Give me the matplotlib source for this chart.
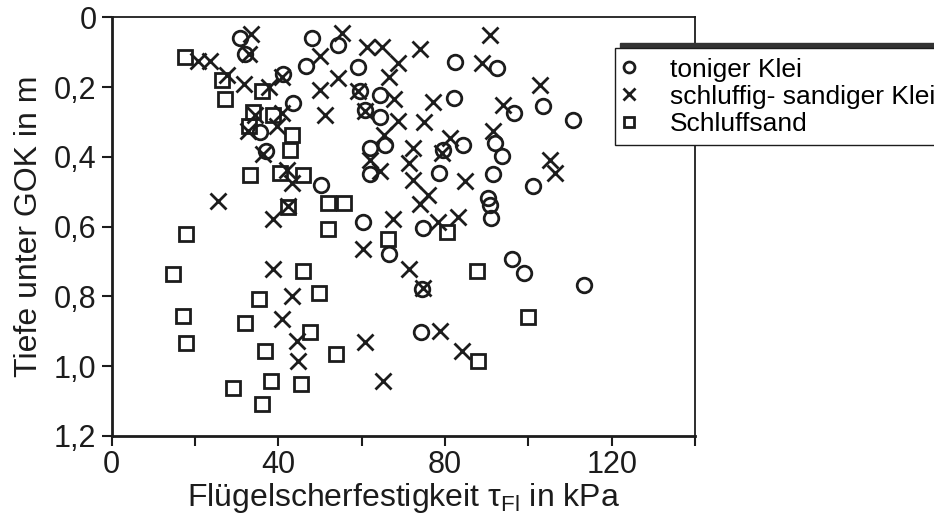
import matplotlib
matplotlib.use("Agg")
import matplotlib.pyplot as plt

plt.rcParams['font.family'] = ['Liberation Sans', 'DejaVu Sans']
plt.rcParams['mathtext.fontset'] = 'custom'
plt.rcParams['mathtext.rm'] = 'Liberation Sans'

# Flügelscherfestigkeit (kPa) / Tiefe (m)
ton_x = [30.9, 32.0, 41.2, 43.5, 35.5, 37.0, 50.2, 48.0, 54.3, 46.6, 59.0, 59.7,
         64.3, 60.9, 64.4, 62.0, 65.6, 82.4, 92.4, 82.2, 96.6, 103.6, 110.8, 79.6,
         84.4, 92.0, 93.6, 62.0, 78.5, 91.6, 101.0, 90.2, 90.8, 91.1, 60.3, 74.8,
         66.6, 96.0, 99.0, 113.4, 74.4, 74.2]
ton_y = [0.058, 0.106, 0.161, 0.244, 0.329, 0.384, 0.479, 0.058, 0.078, 0.140, 0.141, 0.212,
         0.221, 0.265, 0.284, 0.375, 0.367, 0.128, 0.146, 0.231, 0.275, 0.255, 0.293, 0.379,
         0.365, 0.359, 0.398, 0.450, 0.446, 0.450, 0.484, 0.518, 0.537, 0.576, 0.586, 0.605,
         0.679, 0.693, 0.733, 0.768, 0.779, 0.901]

schluff_klei_x = [33.4, 33.0, 20.6, 23.6, 27.6, 31.8, 37.8, 40.8, 34.4, 40.8, 39.6, 32.8,
                  36.2, 42.0, 43.2, 42.2, 38.8, 25.6, 55.2, 50.0, 61.2, 64.8, 74.0, 90.8,
                  54.4, 50.0, 59.2, 68.6, 66.6, 88.8, 51.2, 60.8, 67.8, 68.6, 77.2, 75.0,
                  94.0, 102.8, 65.4, 62.0, 72.4, 71.4, 64.4, 81.2, 79.2, 91.6, 72.4, 84.8,
                  75.8, 74.0, 67.6, 83.0, 78.4, 105.2, 106.4, 60.2, 71.4, 74.6, 78.8, 84.0,
                  60.8, 65.2, 38.8, 43.2, 40.8, 44.4, 44.8]
schluff_klei_y = [0.048, 0.105, 0.124, 0.126, 0.165, 0.190, 0.200, 0.170, 0.279, 0.274, 0.310, 0.326,
                  0.392, 0.436, 0.476, 0.541, 0.579, 0.527, 0.044, 0.110, 0.084, 0.084, 0.089, 0.051,
                  0.174, 0.208, 0.210, 0.131, 0.172, 0.131, 0.280, 0.268, 0.233, 0.298, 0.243, 0.300,
                  0.250, 0.194, 0.338, 0.410, 0.374, 0.418, 0.440, 0.345, 0.389, 0.325, 0.465, 0.470,
                  0.508, 0.534, 0.578, 0.573, 0.586, 0.408, 0.446, 0.663, 0.720, 0.777, 0.898, 0.955,
                  0.931, 1.041, 0.722, 0.800, 0.865, 0.927, 0.984]

sand_x = [17.6, 26.5, 27.3, 36.1, 33.8, 33.0, 38.6, 43.2, 42.8, 33.3, 40.4, 45.9,
          42.3, 52.0, 55.7, 17.8, 51.8, 14.8, 45.8, 49.8, 35.4, 17.0, 32.0, 47.6,
          17.8, 36.8, 53.8, 38.2, 45.4, 29.2, 36.1, 66.4, 80.4, 87.6, 100.0, 87.8]
sand_y = [0.114, 0.179, 0.233, 0.210, 0.271, 0.310, 0.279, 0.338, 0.379, 0.453, 0.446, 0.451,
          0.542, 0.531, 0.531, 0.622, 0.607, 0.736, 0.727, 0.789, 0.808, 0.857, 0.876, 0.903,
          0.933, 0.955, 0.965, 1.041, 1.051, 1.063, 1.108, 0.636, 0.615, 0.727, 0.860, 0.984]

labels = ['toniger Klei', 'schluffig- sandiger Klei', 'Schluffsand']
x_ticks = [0, 20, 40, 60, 80, 100, 120, 140]
x_ticklabels = ['0', '', '40', '', '80', '', '120', '']
y_ticks = [0, 0.2, 0.4, 0.6, 0.8, 1.0, 1.2]
y_ticklabels = ['0', '0,2', '0,4', '0,6', '0,8', '1,0', '1,2']

ink = '#1c1c1c'

fig = plt.figure(figsize=(9.34, 5.17), dpi=100)
ax = fig.add_axes([0.1196, 0.1567, 0.6245, 0.8095])

ax.plot(ton_x, ton_y, 'o', mfc='none', mec=ink, ms=10.5, mew=2, label=labels[0])
ax.plot(schluff_klei_x, schluff_klei_y, 'x', color=ink, ms=12, mew=2, label=labels[1])
ax.plot(sand_x, sand_y, 's', mfc='none', mec=ink, ms=10.5, mew=2, label=labels[2])

ax.set_xlim(0, 140)
ax.set_ylim(1.2, 0)
ax.set_xticks(x_ticks)
ax.set_xticklabels(x_ticklabels)
ax.set_yticks(y_ticks)
ax.set_yticklabels(y_ticklabels)
ax.tick_params(direction='out', length=7, width=1.5, labelsize=22, color=ink, labelcolor=ink)
ax.tick_params(axis='x', pad=3)
ax.tick_params(axis='y', pad=4)

for side in ['left', 'bottom']:
    ax.spines[side].set_linewidth(2)
for side in ['top', 'right']:
    ax.spines[side].set_linewidth(1.3)
for s in ax.spines.values():
    s.set_color(ink)

ax.set_xlabel('Flügelscherfestigkeit τ$_{\\rm Fl}$ in kPa', fontsize=23, color=ink, labelpad=1)
ax.set_ylabel('Tiefe unter GOK in m', fontsize=23, color=ink, labelpad=7)

leg = ax.legend(loc='upper left', bbox_to_anchor=(615 / 934, 1 - 48 / 517),
                bbox_transform=fig.transFigure, fontsize=19, frameon=True,
                fancybox=False, framealpha=1, edgecolor=ink, borderaxespad=0,
                borderpad=0.36, handlelength=0.35, handletextpad=1.38,
                labelspacing=0.12, markerscale=0.75,
                shadow={'ox': 3.6, 'oy': 3.6, 'shade': 0.8, 'alpha': 1})
leg.get_frame().set_linewidth(1)

plt.savefig('out.png', dpi=100)
